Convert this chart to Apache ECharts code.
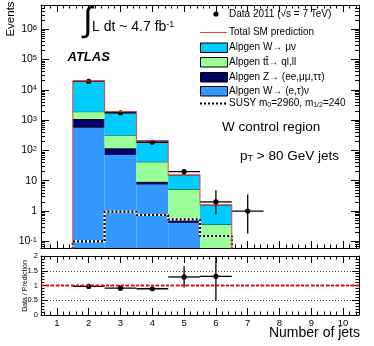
<!DOCTYPE html>
<html>
<head>
<meta charset="utf-8">
<script src="https://cdn.jsdelivr.net/npm/echarts@6/dist/echarts.min.js"></script>
<style>
html, body { margin: 0; padding: 0; background: #fff; }
#chart { width: 374px; height: 346px; }
</style>
</head>
<body>
<div id="chart"></div>
<script>
// jet multiplicity bins with MC
var jetBins = [2, 3, 4, 5, 6];
// MC stack, bottom to top
var wEtauNu = [580, 74, 7.8, 0.42, 0.02];
var zJets = [510, 43, 1.5, 0.08, 0.01];
var ttbar = [810, 203, 32.7, 4.7, 0.33];
var wMuNu = [17600, 1580, 167, 10.2, 1.22];
var susy = [0.1, 0.95, 0.74, 0.53, 0.15];

// data 2011
var dataBins = [2, 3, 4, 5, 6, 7];
var dataVals = [19000, 1750, 186, 20, 2, 1];
var dataLow = [18860, 1710, 172, 15.5, 0.78, 0.18];
var dataHigh = [19140, 1790, 200, 24.5, 4.9, 3.5];

// data / prediction
var ratioVals = [0.97, 0.91, 0.89, 1.29, 1.31];
var ratioLow = [0.95, 0.88, 0.83, 0.93, 0.48];
var ratioHigh = [0.99, 0.94, 0.95, 1.65, 1.97];

// axis ranges
var xRange = [0.5, 10.5];
var yRange = [0.0603, 6.3e6];
var ratioRange = [0, 2];

(function() {
    var font = 'Liberation Sans, Arial, sans-serif';
    var yMin = yRange[0];

    var layers = [
        {name: 'Alpgen W\u2192 (e,\u03c4)\u03bd', color: '#3399ff', vals: wEtauNu},
        {name: 'Alpgen Z\u2192 (ee,\u03bc\u03bc,\u03c4\u03c4)', color: '#000066', vals: zJets},
        {name: 'Alpgen tt\u0304\u2192 ql,ll', color: '#99ff99', vals: ttbar},
        {name: 'Alpgen W\u2192 \u03bc\u03bd', color: '#00ccff', vals: wMuNu}
    ];

    // 堆叠直方图
    var cum = jetBins.map(function() { return 0; });
    var series = [];
    layers.forEach(function(l) {
        var rows = jetBins.map(function(b, i) {
            var lo = cum[i];
            cum[i] = lo + l.vals[i];
            return [b, lo, cum[i]];
        });
        series.push({
            type: 'custom',
            name: l.name,
            xAxisIndex: 0,
            yAxisIndex: 0,
            silent: true,
            clip: true,
            data: rows,
            renderItem: function(params, api) {
                var x = api.value(0);
                var lo = Math.max(api.value(1), yMin);
                var hi = Math.max(api.value(2), yMin);
                var p0 = api.coord([x - 0.5, hi]);
                var p1 = api.coord([x + 0.5, lo]);
                return {
                    type: 'group',
                    children: [{
                        type: 'rect',
                        shape: {x: p0[0], y: p0[1], width: p1[0] - p0[0], height: p1[1] - p0[1]},
                        style: {fill: l.color}
                    }, {
                        type: 'line',
                        shape: {x1: p0[0], y1: p0[1], x2: p1[0], y2: p0[1]},
                        style: {stroke: '#000', lineWidth: 0.8}
                    }]
                };
            }
        });
    });

    // step outline helper
    var stepLine = function(vals) {
        var pts = [[jetBins[0] - 0.5, yMin * 0.5]];
        jetBins.forEach(function(b, i) {
            pts.push([b - 0.5, vals[i]]);
        });
        pts.push([jetBins[jetBins.length - 1] + 0.5, yMin * 0.5]);
        return pts;
    };

    // SUSY
    series.push({
        type: 'line', step: 'end', xAxisIndex: 0, yAxisIndex: 0, silent: true,
        symbol: 'none', data: stepLine(susy),
        lineStyle: {color: '#fff', width: 2.2}
    });
    series.push({
        type: 'line', step: 'end', xAxisIndex: 0, yAxisIndex: 0, silent: true,
        symbol: 'none', data: stepLine(susy),
        lineStyle: {color: '#000', width: 2.2, type: [2, 2]}
    });

    // total SM
    series.push({
        type: 'line', step: 'end', xAxisIndex: 0, yAxisIndex: 0, silent: true,
        symbol: 'none', data: stepLine(cum),
        lineStyle: {color: '#e8403a', width: 1}
    });

    // 数据点
    var errPoint = function(params, api) {
        var x = api.value(0);
        var c = api.coord([x, api.value(1)]);
        var l = api.coord([x - 0.5, api.value(1)]);
        var r = api.coord([x + 0.5, api.value(1)]);
        var lo = api.coord([x, Math.max(api.value(2), yMin)]);
        var hi = api.coord([x, api.value(3)]);
        return {
            type: 'group',
            children: [{
                type: 'line', shape: {x1: l[0], y1: l[1], x2: r[0], y2: r[1]},
                style: {stroke: '#000', lineWidth: 1.3}
            }, {
                type: 'line', shape: {x1: c[0], y1: lo[1], x2: c[0], y2: hi[1]},
                style: {stroke: '#000', lineWidth: 1.3}
            }, {
                type: 'circle', shape: {cx: c[0], cy: c[1], r: 2.6},
                style: {fill: '#000'}
            }]
        };
    };
    series.push({
        type: 'custom', xAxisIndex: 0, yAxisIndex: 0, silent: true, clip: true,
        data: dataBins.map(function(b, i) { return [b, dataVals[i], dataLow[i], dataHigh[i]]; }),
        renderItem: errPoint
    });

    // ratio panel
    series.push({
        type: 'line', xAxisIndex: 2, yAxisIndex: 2, silent: true, symbol: 'none',
        data: [[xRange[0], 1], [xRange[1], 1]],
        lineStyle: {color: '#ff0000', width: 2, type: [3, 2]}
    });
    series.push({
        type: 'custom', xAxisIndex: 2, yAxisIndex: 2, silent: true, clip: true,
        data: jetBins.map(function(b, i) { return [b, ratioVals[i], ratioLow[i], ratioHigh[i]]; }),
        renderItem: errPoint
    });

    var logLabel = function(v) {
        var lg = Math.log10(v);
        var e = Math.round(lg);
        if (Math.abs(lg - e) > 1e-6) return '';
        if (e === 0) return '{b|1}';
        if (e === 1) return '{b|10}';
        return '{b|10}{sup|' + e + '}';
    };

    var frame = {show: true, onZero: false, lineStyle: {color: '#000', width: 1}};
    var xMain = function(pos, gi, showLabel) {
        return {
            type: 'value', gridIndex: gi, position: pos, min: xRange[0], max: xRange[1], splitNumber: 10,
            axisLine: frame,
            axisTick: {show: true, inside: true, length: 7, lineStyle: {color: '#000'}},
            minorTick: {show: true, splitNumber: 5, length: 3.5, lineStyle: {color: '#000'}},
            splitLine: {show: false},
            axisLabel: {
                show: showLabel, margin: 3, color: '#000', fontFamily: font, fontSize: 9.5,
                showMinLabel: false, showMaxLabel: false,
                formatter: function(v) { return Math.abs(v - Math.round(v)) < 1e-6 ? String(Math.round(v)) : ''; }
            }
        };
    };
    var yLog = function(pos) {
        return {
            type: 'log', gridIndex: 0, position: pos, min: yRange[0], max: yRange[1], logBase: 10,
            axisLine: frame,
            axisTick: {show: true, inside: true, length: 8, lineStyle: {color: '#000'}},
            minorTick: {show: true, splitNumber: 9, length: 4, lineStyle: {color: '#000'}},
            splitLine: {show: false},
            axisLabel: {
                show: pos === 'left', margin: 4, color: '#000', fontFamily: font,
                formatter: logLabel,
                rich: {
                    b: {fontSize: 10.5, fontFamily: font, color: '#000', lineHeight: 11, verticalAlign: 'bottom'},
                    sup: {fontSize: 7.5, fontFamily: font, color: '#000', lineHeight: 8, padding: [0, 0, 6, 0], verticalAlign: 'top'}
                }
            }
        };
    };
    var yRatio = function(pos) {
        return {
            type: 'value', gridIndex: 1, position: pos, min: ratioRange[0], max: ratioRange[1], interval: 0.5,
            axisLine: frame,
            axisTick: {show: true, inside: true, length: 7, lineStyle: {color: '#000'}},
            minorTick: {show: true, splitNumber: 5, length: 3.5, lineStyle: {color: '#000'}},
            splitLine: {show: pos === 'left', lineStyle: {color: '#444', width: 1, type: [1, 2]}},
            axisLabel: {show: pos === 'left', margin: 3, color: '#000', fontFamily: font, fontSize: 7.5}
        };
    };

    // 图例
    var legendX = 200, legendTextX = 229;
    var graphics = [];
    graphics.push({type: 'circle', shape: {cx: 216, cy: 14, r: 2.6}, style: {fill: '#000'}});
    graphics.push({type: 'line', shape: {x1: legendX, y1: 32.5, x2: 227, y2: 32.5}, style: {stroke: '#e8403a', lineWidth: 1}});
    var boxRows = [47.5, 62, 77, 91];
    var legendOrder = [3, 2, 1, 0];
    legendOrder.forEach(function(li, k) {
        graphics.push({
            type: 'rect', shape: {x: legendX + 0.5, y: boxRows[k] - 4.5, width: 27, height: 9.5},
            style: {fill: layers[li].color, stroke: '#000', lineWidth: 1}
        });
        graphics.push({
            type: 'text', x: legendTextX, y: boxRows[k],
            style: {text: layers[li].name, fill: '#000', fontFamily: font, fontSize: 10, verticalAlign: 'middle'}
        });
    });
    graphics.push({type: 'line', shape: {x1: legendX, y1: 103.5, x2: 227, y2: 103.5}, style: {stroke: '#000', lineWidth: 2, lineDash: [2, 2]}});
    graphics.push({
        type: 'text', x: legendTextX, y: 14,
        style: {text: 'Data 2011 (\u221as = 7 TeV)', fill: '#000', fontFamily: font, fontSize: 10, verticalAlign: 'middle'}
    });
    graphics.push({
        type: 'text', x: legendTextX, y: 32.5,
        style: {text: 'Total SM prediction', fill: '#000', fontFamily: font, fontSize: 10, verticalAlign: 'middle'}
    });
    graphics.push({
        type: 'text', x: legendTextX, y: 103.5,
        style: {
            text: '{n|SUSY m}{s|0}{n|=2960, m}{s|1/2}{n|=240}', verticalAlign: 'middle',
            rich: {
                n: {fontFamily: font, fontSize: 10, fill: '#000', lineHeight: 10, verticalAlign: 'top'},
                s: {fontFamily: font, fontSize: 7, fill: '#000', lineHeight: 7, padding: [5, 0, 0, 0], verticalAlign: 'bottom'}
            }
        }
    });

    // 标注文字
    graphics.push({
        type: 'text', x: 11, y: 19, rotation: Math.PI / 2,
        style: {text: 'Events', fill: '#000', fontFamily: font, fontSize: 11.5, align: 'center', verticalAlign: 'middle'}
    });
    graphics.push({
        type: 'text', x: 25, y: 286, rotation: Math.PI / 2,
        style: {text: 'Data / Prediction', fill: '#000', fontFamily: font, fontSize: 7, align: 'center', verticalAlign: 'middle'}
    });
    graphics.push({
        type: 'text', x: 88, y: 22,
        style: {text: '\u222b', fill: '#000', fontFamily: font, fontSize: 34, align: 'center', verticalAlign: 'middle'}
    });
    graphics.push({
        type: 'text', x: 92, y: 27,
        style: {
            text: '{n|L dt ~ 4.7 fb}{s|-1}', verticalAlign: 'middle',
            rich: {
                n: {fontFamily: font, fontSize: 14, fill: '#000', lineHeight: 14, verticalAlign: 'bottom'},
                s: {fontFamily: font, fontSize: 9, fill: '#000', lineHeight: 9, padding: [0, 0, 8, 0], verticalAlign: 'top'}
            }
        }
    });
    graphics.push({
        type: 'text', x: 67.5, y: 57,
        style: {text: 'ATLAS', fill: '#000', fontFamily: font, fontSize: 13, fontWeight: 'bold', fontStyle: 'italic', verticalAlign: 'middle'}
    });
    graphics.push({
        type: 'text', x: 222, y: 127.5,
        style: {text: 'W control region', fill: '#000', fontFamily: font, fontSize: 13.5, verticalAlign: 'middle'}
    });
    graphics.push({
        type: 'text', x: 240, y: 156,
        style: {
            text: '{n|p}{s|T}{n| > 80 GeV jets}', verticalAlign: 'middle',
            rich: {
                n: {fontFamily: font, fontSize: 13.5, fill: '#000', lineHeight: 14, verticalAlign: 'top'},
                s: {fontFamily: font, fontSize: 9, fill: '#000', lineHeight: 9, padding: [8, 0, 0, 0], verticalAlign: 'bottom'}
            }
        }
    });
    graphics.push({
        type: 'text', x: 360, y: 333.5,
        style: {text: 'Number of jets', fill: '#000', fontFamily: font, fontSize: 14, align: 'right', verticalAlign: 'middle'}
    });

    var option = {
        animation: false,
        backgroundColor: '#fff',
        grid: [
            {left: 41, right: 15, top: 5, height: 243, outerBoundsMode: 'none'},
            {left: 41, right: 15, top: 256, height: 59, outerBoundsMode: 'none'}
        ],
        xAxis: [xMain('bottom', 0, false), xMain('top', 0, false), xMain('bottom', 1, true), xMain('top', 1, false)],
        yAxis: [yLog('left'), yLog('right'), yRatio('left'), yRatio('right')],
        series: series,
        graphic: graphics
    };

    var echart = echarts.init(document.getElementById('chart'));
    echart.setOption(option);
})();
</script>
</body>
</html>
